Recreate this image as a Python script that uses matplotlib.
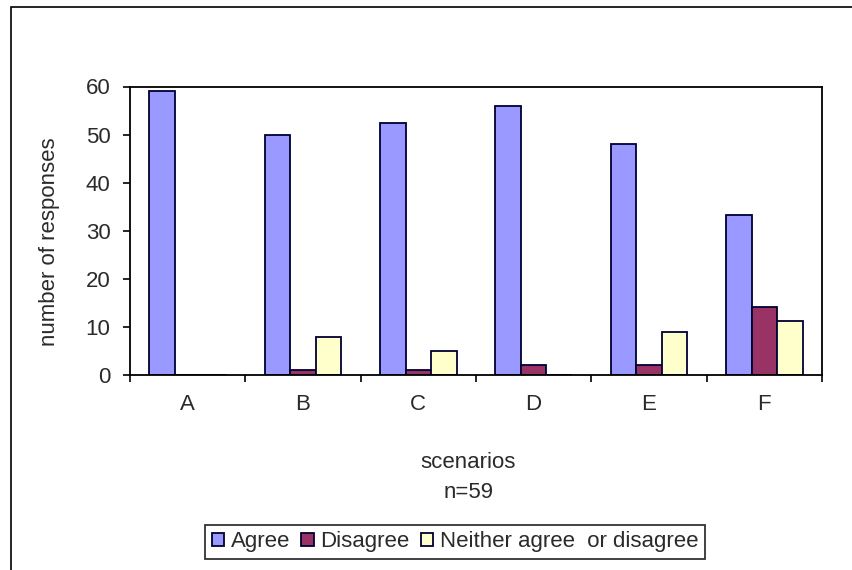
import matplotlib.pyplot as plt
import numpy as np
from matplotlib.patches import Rectangle

plt.rcParams['font.family'] = ['Liberation Sans', 'DejaVu Sans']

scenarios = ['A', 'B', 'C', 'D', 'E', 'F']
agree = [59, 50, 52.5, 56, 48, 33.3]
disagree = [0, 1, 1, 2, 2, 14.2]
neither = [0, 8, 5, 0, 9, 11.3]

W, H = 853, 570
fs = 16
fig = plt.figure(figsize=(W / 100, H / 100), dpi=100)
ax = fig.add_axes([130 / W, 1 - 375 / H, 692 / W, 288.5 / H])

x = np.arange(len(scenarios))
w = 1 / 4.5
ax.bar(x - w, agree, w, color='#9999FF', edgecolor='#000033', linewidth=1.3, label='Agree')
ax.bar(x, disagree, w, color='#993366', edgecolor='#000033', linewidth=1.3, label='Disagree')
ax.bar(x + w, neither, w, color='#FFFFCC', edgecolor='#000033', linewidth=1.3,
       label='Neither agree  or disagree')

ax.set_xlim(-0.5, 5.5)
ax.set_ylim(0, 60)
ax.set_yticks(range(0, 61, 10))
ax.set_xticks(x)
ax.set_xticklabels(scenarios)
ax.set_xticks(np.arange(-0.5, 6, 1), minor=True)
ax.tick_params(axis='x', which='major', length=0, pad=14, labelsize=fs, colors='#2a2a2a')
ax.tick_params(axis='x', which='minor', length=5, direction='out', width=1.2)
ax.tick_params(axis='y', length=5, width=1.2, labelsize=fs, pad=9, labelcolor='#2a2a2a')
for s in ax.spines.values():
    s.set_linewidth(1.3)

fig.text(50 / W, 1 - 242 / H, 'number of responses', rotation=90, ha='center', va='center',
         fontsize=fs, color='#2a2a2a')
fig.text(468 / W, 1 - 462 / H, 'scenarios', ha='center', va='center', fontsize=fs,
         color='#2a2a2a')
fig.text(469 / W, 1 - 493 / H, 'n=59', ha='center', va='center', fontsize=fs,
         color='#2a2a2a')

leg = fig.legend(loc='center', bbox_to_anchor=(455 / W, 1 - 542 / H), ncol=3, fontsize=fs,
                 frameon=True, fancybox=False, edgecolor='black', handlelength=0.55,
                 handleheight=0.55, handletextpad=0.3, columnspacing=0.5, borderpad=0.3)
leg.get_frame().set_linewidth(1.3)
for t in leg.get_texts():
    t.set_color('#2a2a2a')

# chart area border (left and top visible)
fig.patches.append(Rectangle((11 / W, -0.05), 1.1, 1 - 7 / H + 0.05, transform=fig.transFigure,
                             fill=False, edgecolor='black', linewidth=1.2))

fig.savefig('out.png', dpi=100)
